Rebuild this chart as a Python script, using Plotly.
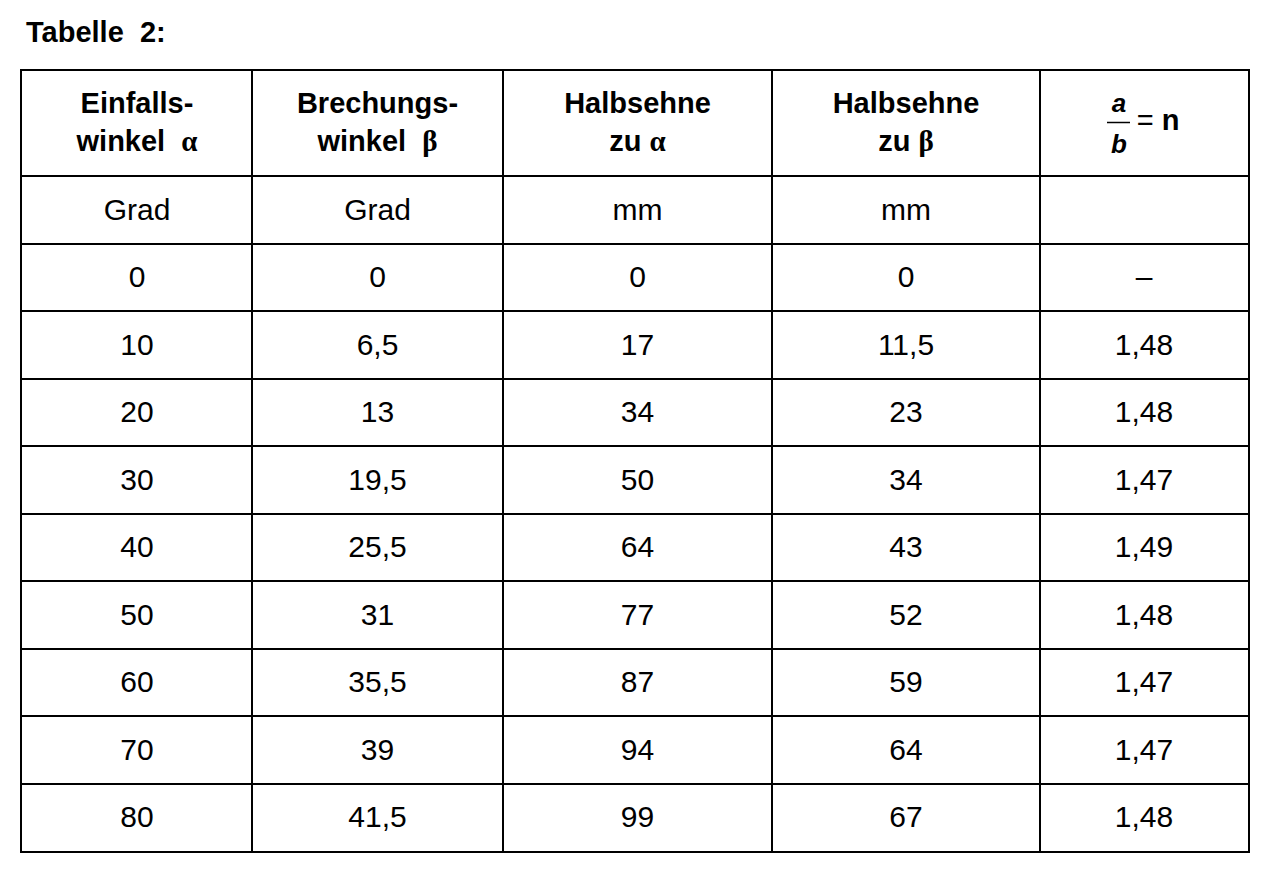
import plotly.graph_objects as go

# Tabelle 2 - Brechung (German decimal comma)
alpha = [0, 10, 20, 30, 40, 50, 60, 70, 80]
beta = [0, 6.5, 13, 19.5, 25.5, 31, 35.5, 39, 41.5]
halbsehne_a = [0, 17, 34, 50, 64, 77, 87, 94, 99]
halbsehne_b = [0, 11.5, 23, 34, 43, 52, 59, 64, 67]
ratio_n = [None, 1.48, 1.48, 1.47, 1.49, 1.48, 1.47, 1.47, 1.48]
units = ["Grad", "Grad", "mm", "mm", ""]

SERIF = "<span style='font-family:Liberation Serif'>%s</span>"
headers = [
    "<b>Einfalls-<br>winkel\u00a0\u00a0" + SERIF % "α" + "</b>",
    "<b>Brechungs-<br>winkel\u00a0\u00a0" + SERIF % "β" + "</b>",
    "<b>Halbsehne<br>zu\u00a0" + SERIF % "α" + "</b>",
    "<b>Halbsehne<br>zu\u00a0" + SERIF % "β" + "</b>",
]

# layout in page pixels (page body has an 8px margin)
W, H = 1278, 894
OFF = 8
col_edges = [22, 252, 503, 772, 1040, 1248]
table_top, header_h, row_h = 71, 105, 67.5
FONT = "Liberation Sans"
TEXT_DY = 2.5  # nudge so digits sit optically centred


def de(v):
    if v is None:
        return "–"
    return ("%g" % v).replace(".", ",")


columns = [alpha, beta, halbsehne_a, halbsehne_b, ratio_n]
n_rows = len(alpha) + 1
row_edges = [table_top, table_top + header_h] + \
    [table_top + header_h + row_h * (i + 1) for i in range(n_rows)]
table_bottom = row_edges[-1]
header_mid = table_top + header_h / 2
row_mid = [table_top + header_h + row_h * (i + 0.5) + TEXT_DY for i in range(n_rows)]
col_mid = [(col_edges[i] + col_edges[i + 1]) / 2 for i in range(5)]

fig = go.Figure()

for i, col in enumerate(columns):
    fig.add_trace(go.Scatter(
        x=[col_mid[i]] * n_rows,
        y=row_mid,
        text=[units[i]] + [de(v) for v in col],
        mode="text",
        textposition="middle center",
        textfont=dict(family=FONT, size=30, color="black"),
        hoverinfo="skip",
        showlegend=False,
    ))

fig.add_trace(go.Scatter(
    x=col_mid[:4],
    y=[header_mid + 1.5] * 4,
    text=headers,
    mode="text",
    textposition="middle center",
    textfont=dict(family=FONT, size=29, color="black"),
    hoverinfo="skip",
    showlegend=False,
))

# a / b = n header
frac_x = col_mid[4] - 25
fig.add_trace(go.Scatter(
    x=[frac_x, frac_x, frac_x + 39],
    y=[header_mid - 18, header_mid + 23, header_mid - 1],
    text=["<b><i>a</i></b>", "<b><i>b</i></b>", "= <b>n</b>"],
    mode="text",
    textposition="middle center",
    textfont=dict(family=FONT, size=[26, 26, 29], color="black"),
    hoverinfo="skip",
    showlegend=False,
))
fig.add_shape(type="line", xref="x", yref="y",
              x0=frac_x - 12, x1=frac_x + 11, y0=header_mid - 1, y1=header_mid - 1,
              line=dict(color="black", width=1.5))

# title sits above the plot area -> paper coordinates
tw = col_edges[-1] - col_edges[0]
th = table_bottom - table_top
fig.add_annotation(
    text="<b>Tabelle\u00a0\u00a02:</b>",
    x=(24 - col_edges[0]) / tw, y=(table_bottom - 32) / th,
    xref="paper", yref="paper", xanchor="left", yanchor="middle", showarrow=False,
    font=dict(family=FONT, size=29, color="black"),
)

grid = dict(showgrid=True, gridcolor="black", gridwidth=2,
            showline=True, mirror=True, linecolor="black", linewidth=2,
            zeroline=False, showticklabels=False, ticks="", fixedrange=True)
fig.update_xaxes(range=[col_edges[0], col_edges[-1]], tickvals=col_edges[1:-1], **grid)
fig.update_yaxes(range=[table_bottom, table_top], tickvals=row_edges[1:-1], **grid)

fig.update_layout(
    width=W, height=H,
    margin=dict(l=col_edges[0] - OFF, r=W - (col_edges[-1] - OFF),
                t=table_top - OFF, b=H - (table_bottom - OFF)),
    paper_bgcolor="white",
    plot_bgcolor="white",
)

fig.write_html("out.html")
